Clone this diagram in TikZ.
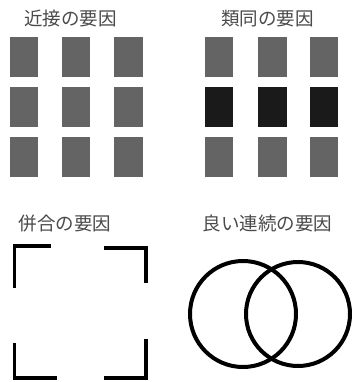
\documentclass[tikz,border=0pt]{standalone}
\usepackage{fontspec}
\newfontfamily\cjk{Noto Sans CJK JP}
\definecolor{sqgray}{HTML}{646464}
\definecolor{sqdark}{HTML}{1A1A1A}
\definecolor{txtgray}{HTML}{4A4A4A}
\begin{document}
\begin{tikzpicture}[x=1pt,y=-1pt,
  title/.style={font=\cjk\fontsize{18.5}{20}\selectfont, text=txtgray, inner sep=0pt},
  sq/.style={fill=sqgray, minimum width=28.5pt, minimum height=40pt, inner sep=0pt},
  sqd/.style={sq, fill=sqdark},
  bracket/.style={line width=3.6pt, line join=miter},
  ring/.style={line width=4pt}]
\useasboundingbox (0,0) rectangle (352,382);
% titles
\node[title] (t1) at (70.5,18.5) {近接の要因};
\node[title] (t2) at (267.5,18.5) {類同の要因};
\node[title] (t3) at (65,223.5) {併合の要因};
\node[title] (t4) at (267.5,223.5) {良い連続の要因};
% proximity
\foreach \r/\y in {1/57.5,2/107.5,3/157}{
  \node[sq] (pa\r) at (24.2,\y) {};
  \node[sq] (pb\r) at (76,\y) {};
  \node[sq] (pc\r) at (128.5,\y) {};
}
% similarity
\foreach \r/\y in {1/57.5,3/157}{
  \node[sq] (sa\r) at (219,\y) {};
  \node[sq] (sb\r) at (272.5,\y) {};
  \node[sq] (sc\r) at (324,\y) {};
}
\node[sqd] (sa2) at (219,107.5) {};
\node[sqd] (sb2) at (272.5,107.5) {};
\node[sqd] (sc2) at (324,107.5) {};
% closure brackets
\draw[bracket] (51,246) -- (14.5,246) -- (14.5,288);
\draw[bracket] (104,248) -- (146,248) -- (146,283);
\draw[bracket] (14.5,343) -- (14.5,378) -- (57,378);
\draw[bracket] (146,339) -- (146,378) -- (104,378);
% continuity circles
\draw[ring] (243,314) circle (53);
\draw[ring] (298,314) circle (52);
\end{tikzpicture}
\end{document}
